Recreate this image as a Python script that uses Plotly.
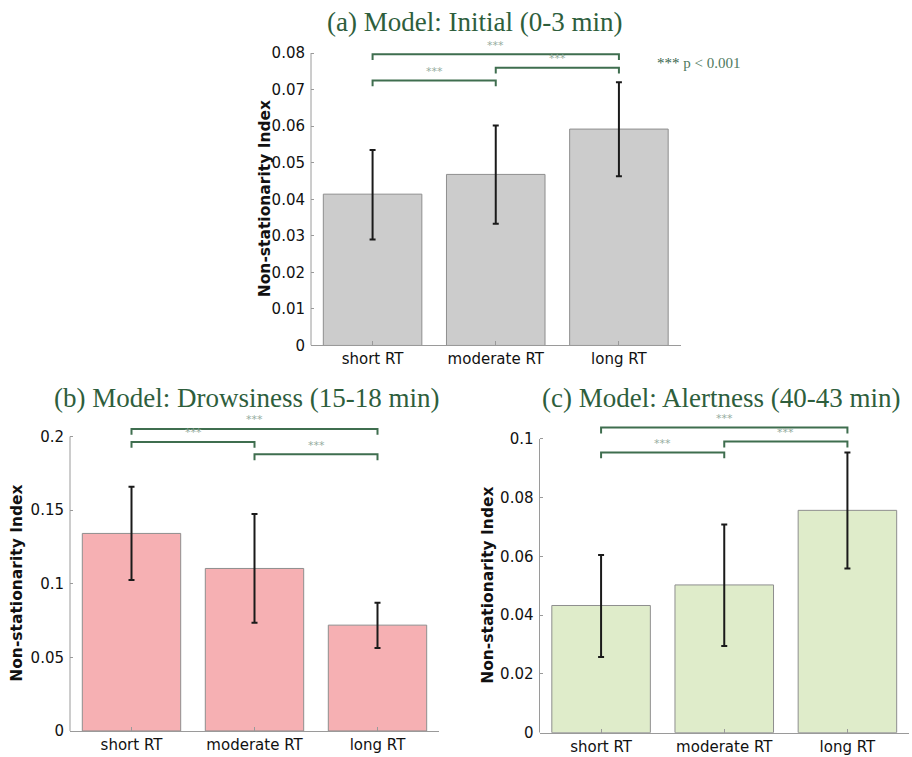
import plotly.graph_objects as go

categories = ["short RT", "moderate RT", "long RT"]

# Panel (a) Initial (0-3 min)
a_mean = [0.0414, 0.0468, 0.0592]
a_low = [0.0290, 0.0333, 0.0463]
a_high = [0.0535, 0.0602, 0.0720]
a_ticks = [0, 0.01, 0.02, 0.03, 0.04, 0.05, 0.06, 0.07, 0.08]
a_ticklabels = ["0", "0.01", "0.02", "0.03", "0.04", "0.05", "0.06", "0.07", "0.08"]
a_brackets = [(0, 2, 0.0797), (1, 2, 0.0760), (0, 1, 0.0725)]

# Panel (b) Drowsiness (15-18 min)
b_mean = [0.1342, 0.1104, 0.0719]
b_low = [0.1025, 0.0735, 0.0563]
b_high = [0.1660, 0.1474, 0.0871]
b_ticks = [0, 0.05, 0.1, 0.15, 0.2]
b_ticklabels = ["0", "0.05", "0.1", "0.15", "0.2"]
b_brackets = [(0, 2, 0.2052), (0, 1, 0.1964), (1, 2, 0.1880)]

# Panel (c) Alertness (40-43 min)
c_mean = [0.0433, 0.0503, 0.0757]
c_low = [0.0258, 0.0295, 0.0559]
c_high = [0.0605, 0.0709, 0.0954]
c_ticks = [0, 0.02, 0.04, 0.06, 0.08, 0.1]
c_ticklabels = ["0", "0.02", "0.04", "0.06", "0.08", "0.1"]
c_brackets = [(0, 2, 0.1039), (1, 2, 0.0991), (0, 1, 0.0954)]

titles = ["(a) Model: Initial (0-3 min)",
          "(b) Model: Drowsiness (15-18 min)",
          "(c) Model: Alertness (40-43 min)"]
y_title = "Non-stationarity Index"

W, H = 912, 757
TITLE_GREEN = "#2E5E3C"
BRACKET_GREEN = "#3F6E4F"
STAR_GRAY = "#95AD9E"
AXIS_GRAY = "#9A9A9A"
TICK_FONT = dict(family="DejaVu Sans", size=15, color="#111111")

panels = [
    dict(mean=a_mean, low=a_low, high=a_high, ticks=a_ticks, tlab=a_ticklabels,
         br=a_brackets, color="#CCCCCC", xpx=(311, 680.5), ybot=344, scale=3650,
         rtop=0.082, title=titles[0], tx=474, ty=21, lx=265),
    dict(mean=b_mean, low=b_low, high=b_high, ticks=b_ticks, tlab=b_ticklabels,
         br=b_brackets, color="#F6B0B3", xpx=(70, 439), ybot=729, scale=1470,
         rtop=0.21, title=titles[1], tx=247, ty=396, lx=17),
    dict(mean=c_mean, low=c_low, high=c_high, ticks=c_ticks, tlab=c_ticklabels,
         br=c_brackets, color="#DFECCA", xpx=(539.5, 909), ybot=730.7, scale=2933,
         rtop=0.106, title=titles[2], tx=721, ty=396, lx=488),
]

fig = go.Figure()
shapes = []
annotations = []
layout_axes = {}

for i, p in enumerate(panels):
    n = "" if i == 0 else str(i + 1)
    xa, ya = "x" + n, "y" + n
    ytop_px = p["ybot"] - p["rtop"] * p["scale"]
    xdom = [p["xpx"][0] / W, p["xpx"][1] / W]
    ydom = [1 - p["ybot"] / H, 1 - ytop_px / H]

    fig.add_trace(go.Bar(
        x=list(range(len(categories))), y=p["mean"], width=0.8,
        marker=dict(color=p["color"], line=dict(color="#8E8E8E", width=1)),
        error_y=dict(type="data", symmetric=False,
                     array=[h - m for h, m in zip(p["high"], p["mean"])],
                     arrayminus=[m - l for m, l in zip(p["mean"], p["low"])],
                     color="#1A1A1A", thickness=2, width=3),
        xaxis=xa, yaxis=ya, showlegend=False, hoverinfo="skip"))

    layout_axes["xaxis" + n] = dict(
        domain=xdom, anchor=ya, range=[-0.5, 2.5],
        tickvals=list(range(len(categories))), ticktext=categories,
        showline=True, linecolor=AXIS_GRAY, linewidth=1,
        ticks="inside", ticklen=4, tickcolor=AXIS_GRAY,
        showgrid=False, zeroline=False, tickfont=TICK_FONT, fixedrange=True)
    layout_axes["yaxis" + n] = dict(
        domain=ydom, anchor=xa, range=[0, p["rtop"]],
        tickvals=p["ticks"], ticktext=p["tlab"],
        showline=False, ticks="inside", ticklen=3, tickcolor=AXIS_GRAY,
        showgrid=False, zeroline=False, tickfont=TICK_FONT,
        ticklabelstandoff=5, fixedrange=True)

    # y-axis line up to the top tick
    shapes.append(dict(type="line", xref="paper", x0=xdom[0], x1=xdom[0],
                       yref=ya, y0=0, y1=p["ticks"][-1],
                       line=dict(color=AXIS_GRAY, width=1)))

    # significance brackets
    drop = p["ticks"][-1] * 0.02
    for (c0, c1, yb) in p["br"]:
        shapes.append(dict(type="path", xref=xa, yref=ya,
                           path=f"M {c0},{yb - drop} L {c0},{yb} L {c1},{yb} L {c1},{yb - drop}",
                           line=dict(color=BRACKET_GREEN, width=2)))
        annotations.append(dict(xref=xa, yref=ya, x=(c0 + c1) / 2, y=yb,
                                yshift=9, text="***", showarrow=False,
                                font=dict(family="DejaVu Sans", size=11, color=STAR_GRAY)))

    # panel title
    annotations.append(dict(xref="paper", yref="paper", x=p["tx"] / W, y=1 - p["ty"] / H,
                            text=p["title"], showarrow=False, xanchor="center", yanchor="middle",
                            font=dict(family="Liberation Serif", size=27, color=TITLE_GREEN)))
    # y-axis title
    annotations.append(dict(xref="paper", yref="paper", x=p["lx"] / W,
                            y=1 - (p["ybot"] - p["ticks"][-1] * p["scale"] / 2) / H,
                            text="<b>" + y_title + "</b>", textangle=-90, showarrow=False,
                            xanchor="center", yanchor="middle",
                            font=dict(family="DejaVu Sans", size=15.5, color="#111111")))

annotations.append(dict(xref="paper", yref="paper", x=655 / W, y=1 - 62 / H,
                        text="<span style='color:#35634A'>***</span> p &lt; 0.001",
                        showarrow=False, xanchor="left", yanchor="middle",
                        font=dict(family="Liberation Serif", size=15, color="#4F7A60")))

fig.update_layout(width=W, height=768, margin=dict(l=0, r=0, t=0, b=0),
                  paper_bgcolor="white", plot_bgcolor="white",
                  shapes=shapes, annotations=annotations, showlegend=False,
                  bargap=0.2, **layout_axes)

fig.write_html("out.html", config={"displayModeBar": False},
               post_script="document.body.style.margin='0';"
                           "document.documentElement.style.overflow='hidden';")
